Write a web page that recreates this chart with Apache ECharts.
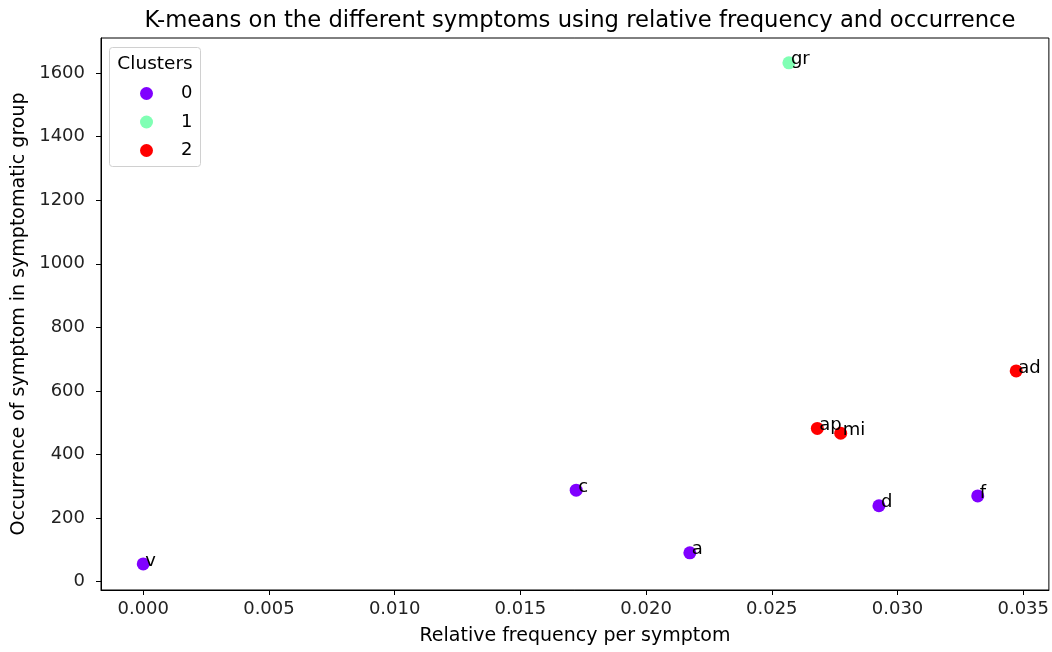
<!DOCTYPE html>
<html>
<head>
<meta charset="utf-8">
<script src="https://cdn.jsdelivr.net/npm/echarts@6/dist/echarts.min.js"></script>
<style>
html,body{margin:0;padding:0;background:#fff;}
#chart{width:1052px;height:652px;}
</style>
</head>
<body>
<div id="chart"></div>
<script>
// Data
var symptoms = ['v', 'c', 'a', 'gr', 'ap', 'mi', 'd', 'f', 'ad'];
var relFreq = [0.0000, 0.01722, 0.02174, 0.02568, 0.02681, 0.02774, 0.02926, 0.03319, 0.03472];
var occurrence = [56, 288, 91, 1632, 482, 467, 239, 270, 663];
var clusters = [0, 0, 0, 1, 2, 2, 0, 0, 2];
var clusterNames = ['0', '1', '2'];
var clusterColors = ['#8000ff', '#80ffb4', '#ff0000'];

var FONT = 'DejaVu Sans';

var series = clusterNames.map(function (cn, ci) {
  var data = [];
  for (var i = 0; i < symptoms.length; i++) {
    if (clusters[i] === ci) data.push({ name: symptoms[i], value: [relFreq[i], occurrence[i]] });
  }
  return {
    name: cn,
    type: 'scatter',
    symbol: 'circle',
    symbolSize: 13,
    itemStyle: { color: clusterColors[ci], opacity: 1 },
    data: data,
    label: {
      show: true,
      formatter: function (p) { return p.name; },
      position: [8.5, 12.5],
      align: 'left',
      verticalAlign: 'bottom',
      color: '#000',
      fontFamily: FONT,
      fontSize: 18
    },
    emphasis: { disabled: true }
  };
});

var chart = echarts.init(document.getElementById('chart'), null, { renderer: 'canvas' });
chart.setOption({
  animation: false,
  backgroundColor: '#fff',
  textStyle: { fontFamily: FONT },
  title: {
    text: 'K-means on the different symptoms using relative frequency and occurrence',
    left: 575,
    top: 5,
    textAlign: 'center',
    textStyle: { fontFamily: FONT, fontSize: 22.7, fontWeight: 'normal', color: '#000' }
  },
  grid: {
    left: 101, right: 2, top: 38, bottom: 62,
    show: true, borderColor: '#000', borderWidth: 1, backgroundColor: 'transparent'
  },
  graphic: [
    {
      type: 'rect', z: 10,
      shape: { x: 109.5, y: 47.5, width: 91, height: 119, r: 3 },
      style: { fill: 'rgba(255,255,255,0.8)', stroke: '#d0d0d0', lineWidth: 1 }
    },
    {
      type: 'text', z: 11,
      x: 155, y: 64,
      style: { text: 'Clusters', fontFamily: FONT, fontSize: 18.5, fill: '#000', textAlign: 'center', textVerticalAlign: 'middle' }
    }
  ],
  legend: {
    orient: 'vertical',
    left: 135,
    top: 79.5,
    z: 12,
    itemWidth: 13,
    itemHeight: 13,
    itemGap: 10.5,
    icon: 'circle',
    data: clusterNames,
    textStyle: { fontFamily: FONT, fontSize: 18, lineHeight: 18, color: '#000', padding: [0, 0, 0, 23] }
  },
  xAxis: {
    type: 'value',
    min: -0.00168,
    max: 0.03602,
    splitNumber: 8,
    minInterval: 0.005,
    maxInterval: 0.005,
    name: 'Relative frequency per symptom',
    nameLocation: 'middle',
    nameGap: 37,
    nameTextStyle: { fontFamily: FONT, fontSize: 19, color: '#000' },
    axisLine: { show: true, onZero: false, lineStyle: { color: '#000', width: 1 } },
    axisTick: { show: true, inside: false, length: 5, lineStyle: { color: '#000' } },
    axisLabel: {
      margin: 10, fontFamily: FONT, fontSize: 18, color: '#222',
      showMinLabel: false, showMaxLabel: false,
      formatter: function (v) { return v.toFixed(3); }
    },
    splitLine: { show: false }
  },
  yAxis: {
    type: 'value',
    min: -26,
    max: 1710,
    splitNumber: 8,
    minInterval: 200,
    maxInterval: 200,
    name: 'Occurrence of symptom in symptomatic group',
    nameLocation: 'middle',
    nameGap: 72,
    nameTextStyle: { fontFamily: FONT, fontSize: 19, color: '#000' },
    axisLine: { show: true, onZero: false, lineStyle: { color: '#000', width: 1 } },
    axisTick: { show: true, inside: false, length: 5, lineStyle: { color: '#000' } },
    axisLabel: {
      margin: 16, fontFamily: FONT, fontSize: 18, color: '#222',
      showMinLabel: false, showMaxLabel: false,
      formatter: function (v) { return String(Math.round(v)); }
    },
    splitLine: { show: false }
  },
  series: series
});
</script>
</body>
</html>
